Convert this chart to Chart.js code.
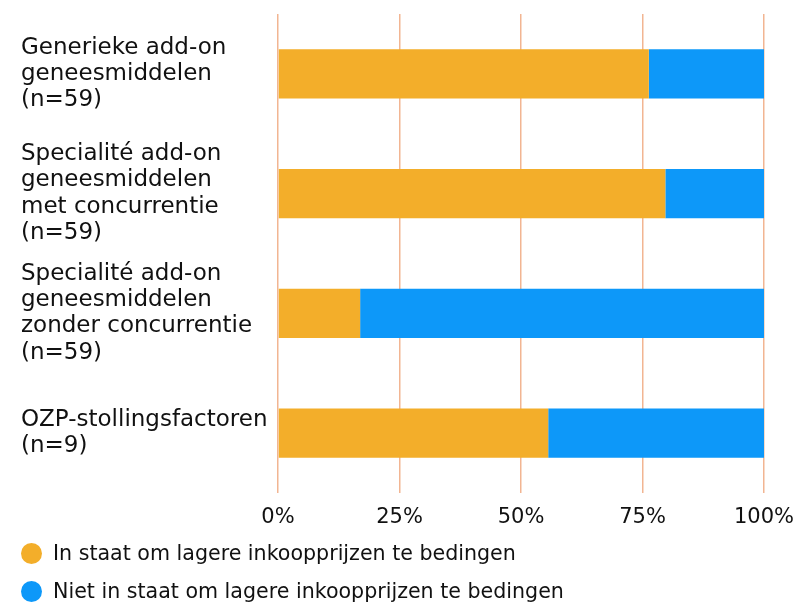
<!DOCTYPE html>
<html>
<head>
<meta charset="utf-8">
<script src="https://cdn.jsdelivr.net/npm/chart.js@4/dist/chart.umd.min.js"></script>
<style>
  body { margin: 0; background: #fff; font-family: "DejaVu Sans", Verdana, sans-serif; }
  #wrap { position: relative; width: 800px; height: 604px; }
  #chartBox { position: absolute; left: 0; top: 0; width: 800px; height: 540px; }
  .legend { position: absolute; left: 0; width: 800px; font-size: 20.6px; color: #111; }
  .legend .item { position: absolute; left: 21px; height: 30px; display: flex; align-items: center; white-space: nowrap; }
  .legend .dot { width: 21px; height: 21px; border-radius: 50%; margin-right: 11px; }
</style>
</head>
<body>
<div id="wrap">
  <div id="chartBox"><canvas id="chart" width="800" height="540"></canvas></div>
  <div class="legend" id="legend"></div>
</div>
<script>
const categories = [
  ["Generieke add-on", "geneesmiddelen", "(n=59)"],
  ["Specialité add-on", "geneesmiddelen", "met concurrentie", "(n=59)"],
  ["Specialité add-on", "geneesmiddelen", "zonder concurrentie", "(n=59)"],
  ["OZP-stollingsfactoren", "(n=9)"]
];
const seriesNames = [
  "In staat om lagere inkoopprijzen te bedingen",
  "Niet in staat om lagere inkoopprijzen te bedingen"
];
const wel = [76.3, 79.7, 16.9, 55.6];
const niet = [23.7, 20.3, 83.1, 44.4];
const tickValues = [0, 25, 50, 75, 100];
const colors = ["#f3ae2a", "#0d98f9"];

const fontFamily = "'DejaVu Sans', Verdana, sans-serif";

new Chart(document.getElementById("chart"), {
  type: "bar",
  data: {
    labels: categories,
    datasets: [
      { label: seriesNames[0], data: wel, backgroundColor: colors[0] },
      { label: seriesNames[1], data: niet, backgroundColor: colors[1] }
    ]
  },
  options: {
    indexAxis: "y",
    responsive: false,
    animation: false,
    layout: { padding: { left: 21, right: 36, top: 14, bottom: 0 } },
    datasets: { bar: { barPercentage: 0.41, categoryPercentage: 1 } },
    plugins: { legend: { display: false }, tooltip: { enabled: false } },
    scales: {
      x: {
        stacked: true,
        min: 0,
        max: 100,
        afterBuildTicks: (scale) => { scale.ticks = tickValues.map(v => ({ value: v })); },
        afterFit: (scale) => { scale.height = 47; scale.paddingLeft = 0; scale.paddingRight = 0; },
        border: { display: false },
        grid: { color: "#f2b592", lineWidth: 1.5, drawTicks: false },
        ticks: { color: "#111", font: { family: fontFamily, size: 21 }, padding: 12, callback: v => v + "%" }
      },
      y: {
        stacked: true,
        afterFit: (scale) => { scale.width = 257; scale.paddingTop = 0; scale.paddingBottom = 0; },
        border: { display: false },
        grid: { display: false },
        ticks: { color: "#111", font: { family: fontFamily, size: 23, lineHeight: 1.14 }, crossAlign: "far", padding: 8 }
      }
    }
  }
});

// legend below the chart
const legend = document.getElementById("legend");
const rowCenters = [553, 591];
seriesNames.forEach((name, i) => {
  const item = document.createElement("div");
  item.className = "item";
  item.style.top = (rowCenters[i] - 15) + "px";
  item.innerHTML = `<span class="dot" style="background:${colors[i]}"></span><span>${name}</span>`;
  legend.appendChild(item);
});
</script>
</body>
</html>
